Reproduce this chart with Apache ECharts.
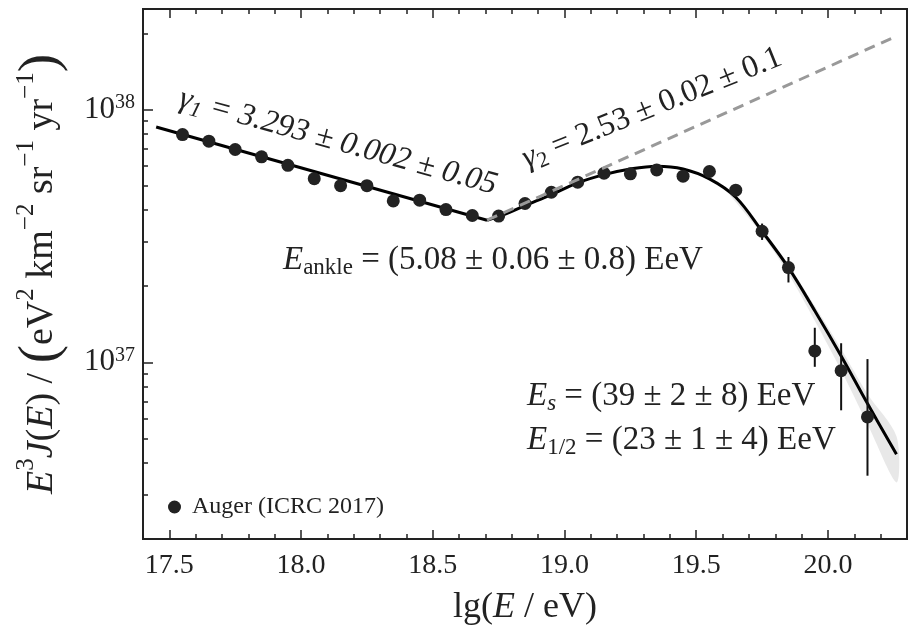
<!DOCTYPE html>
<html>
<head>
<meta charset="utf-8">
<script src="https://cdn.jsdelivr.net/npm/echarts@6/dist/echarts.min.js"></script>
<style>
html,body{margin:0;padding:0;background:#fff;}
#chart{width:912px;height:628px;}
</style>
</head>
<body>
<div id="chart"></div>
<script>
// ---- data ----
const lgE = [17.55,17.65,17.75,17.85,17.95,18.05,18.15,18.25,18.35,18.45,18.55,18.65,18.75,18.85,18.95,19.05,19.15,19.25,19.35,19.45,19.55,19.65,19.75,19.85,19.95,20.05,20.15];
const flux = [7.96e37,7.50e37,6.95e37,6.50e37,6.02e37,5.33e37,5.00e37,5.00e37,4.35e37,4.38e37,4.02e37,3.81e37,3.79e37,4.25e37,4.71e37,5.16e37,5.60e37,5.57e37,5.77e37,5.45e37,5.69e37,4.80e37,3.30e37,2.37e37,1.11e37,9.27e36,6.08e36];

const errX  = [19.75,19.85,19.95,20.05,20.15];
const errLo = [3.05e37,2.07e37,9.6e36,6.46e36,3.56e36];
const errHi = [3.54e37,2.61e37,1.37e37,1.19e37,1.03e37];

const fitLowX = [17.45,18.706];
const fitLowY = [8.53e37,3.65e37];
const fitHighX = [18.706,18.77,18.85,18.95,19.05,19.15,19.25,19.35,19.45,19.55,19.65,19.75,19.85,19.95,20.05,20.15,20.26];
const fitHighY = [3.65e37,3.84e37,4.17e37,4.61e37,5.13e37,5.53e37,5.82e37,5.97e37,5.82e37,5.32e37,4.50e37,3.30e37,2.37e37,1.60e37,1.06e37,6.87e36,4.33e36];

const extX = [18.706,20.245];
const extY = [3.65e37,1.92e38];

const bandX  = [19.60,19.75,19.85,19.95,20.05,20.15,20.26];
const bandLo = [4.98e37,3.20e37,2.24e37,1.46e37,9.3e36,5.7e36,3.35e36];
const bandHi = [5.05e37,3.36e37,2.44e37,1.67e37,1.13e37,7.5e36,5.1e36];

const xMajor = [17.5,18.0,18.5,19.0,19.5,20.0];
const xLabels = ['17.5','18.0','18.5','19.0','19.5','20.0'];
const xMinor = [17.4,17.6,17.7,17.8,17.9,18.1,18.2,18.3,18.4,18.6,18.7,18.8,18.9,19.1,19.2,19.3,19.4,19.6,19.7,19.8,19.9,20.1,20.2,20.3];
const yMajor = [1e37,1e38];
const yExp = ['37','38'];
const yMinor = [3e36,4e36,5e36,6e36,7e36,8e36,9e36,2e37,3e37,4e37,5e37,6e37,7e37,8e37,9e37,2e38];

const seriesName = 'Auger (ICRC 2017)';

// ---- chart ----
const FF = 'Liberation Serif';
const INK = '#222';
const XMIN = 17.4, XMAX = 20.3, YMIN = 2e36, YMAX = 2.5e38;

function pairs(a, b) { return a.map((v, i) => [v, b[i]]); }

function xAxisDef(pos, ticks, len, labels) {
  return {
    type: 'value', position: pos, min: XMIN, max: XMAX,
    axisLine: { show: false },
    splitLine: { show: false },
    axisTick: { show: true, inside: true, length: len, customValues: ticks, lineStyle: { color: INK, width: 1.5 } },
    axisLabel: labels ? {
      show: true, customValues: xMajor, margin: 13,
      formatter: v => xLabels[xMajor.findIndex(m => Math.abs(m - v) < 1e-6)],
      fontFamily: FF, fontSize: 28, color: INK
    } : { show: false }
  };
}
function yAxisDef(ticks, len, labels) {
  return {
    type: 'log', logBase: 10, position: 'left', min: YMIN, max: YMAX,
    axisLine: { show: false },
    splitLine: { show: false },
    minorTick: { show: false },
    axisTick: { show: true, inside: true, length: len, customValues: ticks, lineStyle: { color: INK, width: 1.5 } },
    axisLabel: labels ? {
      show: true, customValues: yMajor, margin: 8,
      formatter: v => '{b|10}{s|' + yExp[yMajor.findIndex(m => Math.abs(m - v) / m < 1e-6)] + '}',
      rich: {
        b: { fontFamily: FF, fontSize: 31, color: INK, lineHeight: 34 },
        s: { fontFamily: FF, fontSize: 20, color: INK, verticalAlign: 'top', lineHeight: 22 }
      }
    } : { show: false }
  };
}

const yName = '{i|E}{sup|3}{i|J}{n|(}{i|E}{n|) / }{big|(}{n|eV}{sup|2}{n| km}{sup|−2}{n| sr}{sup|−1}{n| yr}{sup|−1}{big|)}';

const yAxis0 = yAxisDef(yMajor, 10, true);
yAxis0.name = yName;
yAxis0.nameLocation = 'middle';
yAxis0.nameRotate = 90;
yAxis0.nameGap = 73;
yAxis0.nameTextStyle = {
  fontFamily: FF, fontSize: 38, color: INK,
  rich: {
    i: { fontFamily: FF, fontSize: 38, fontStyle: 'italic', color: INK, lineHeight: 56 },
    n: { fontFamily: FF, fontSize: 38, color: INK, lineHeight: 56 },
    sup: { fontFamily: FF, fontSize: 25, color: INK, verticalAlign: 'top', lineHeight: 36 },
    big: { fontFamily: FF, fontSize: 55, color: INK, lineHeight: 56 }
  }
};

const xAxis0 = xAxisDef('bottom', xMajor, 9, true);
xAxis0.name = '{n|lg(}{i|E}{n| / eV)}';
xAxis0.nameLocation = 'middle';
xAxis0.nameGap = 51;
xAxis0.nameTextStyle = {
  fontFamily: FF, fontSize: 36, color: INK,
  rich: {
    n: { fontFamily: FF, fontSize: 36, color: INK },
    i: { fontFamily: FF, fontSize: 36, fontStyle: 'italic', color: INK }
  }
};

const chart = echarts.init(document.getElementById('chart'), null, { renderer: 'canvas' });

function annRich(subItalic) {
  return {
    i: { fontFamily: FF, fontSize: 33, fontStyle: 'italic', fill: INK, lineHeight: 38 },
    sub: { fontFamily: FF, fontSize: 23, fontStyle: subItalic ? 'italic' : 'normal', fill: INK, verticalAlign: 'bottom', lineHeight: 26 },
    n: { fontFamily: FF, fontSize: 33, fill: INK, lineHeight: 38 }
  };
}

const option = {
  backgroundColor: '#fff',
  animation: false,
  grid: { left: 143, right: 5, top: 9, bottom: 89, outerBoundsMode: 'none', containLabel: false, show: true, borderColor: INK, borderWidth: 2, backgroundColor: 'transparent' },
  legend: {
    data: [{ name: seriesName, icon: 'circle' }],
    left: 168, top: 495, padding: 0,
    itemWidth: 13, itemHeight: 13,
    textStyle: { fontFamily: FF, fontSize: 24, color: INK, padding: [0, 0, 0, 6] }
  },
  xAxis: [
    xAxis0,
    xAxisDef('bottom', xMinor, 5, false),
    xAxisDef('top', xMajor, 9, false),
    xAxisDef('top', xMinor, 5, false)
  ],
  yAxis: [yAxis0, yAxisDef(yMinor, 5, false)],
  series: [
    {
      type: 'custom', xAxisIndex: 0, yAxisIndex: 0, z: 1, silent: true,
      data: [[bandX[0], bandLo[0], bandHi[0]]],
      renderItem: function (params, api) {
        const pts = [];
        for (let i = 0; i < bandX.length; i++) pts.push(api.coord([bandX[i], bandHi[i]]));
        for (let i = bandX.length - 1; i >= 0; i--) pts.push(api.coord([bandX[i], bandLo[i]]));
        return { type: 'polygon', shape: { points: pts, smooth: 0.3 }, style: { fill: '#e8e8e8', stroke: 'none' } };
      }
    },
    {
      type: 'line', name: 'fit-low', data: pairs(fitLowX, fitLowY), showSymbol: false, z: 3,
      lineStyle: { color: '#000', width: 3 }, silent: true
    },
    {
      type: 'line', name: 'fit-high', data: pairs(fitHighX, fitHighY), showSymbol: false, smooth: 0.35, z: 3,
      lineStyle: { color: '#000', width: 3 }, silent: true
    },
    {
      type: 'custom', name: 'errors', z: 4, silent: true,
      data: errX.map((x, i) => [x, errLo[i], errHi[i]]),
      encode: { x: 0, y: [1, 2] },
      renderItem: function (params, api) {
        const a = api.coord([api.value(0), api.value(1)]);
        const b = api.coord([api.value(0), api.value(2)]);
        return { type: 'line', shape: { x1: a[0], y1: a[1], x2: b[0], y2: b[1] }, style: { stroke: '#111', lineWidth: 2 } };
      }
    },
    {
      type: 'scatter', name: seriesName, data: pairs(lgE, flux), symbol: 'circle', symbolSize: 13, z: 5,
      itemStyle: { color: INK, opacity: 1 }
    },
    {
      type: 'line', name: 'ext', data: pairs(extX, extY), showSymbol: false, z: 6, silent: true,
      lineStyle: { color: '#999', width: 3, type: [11, 7] }
    }
  ],
  graphic: [
    {
      type: 'text', x: 338, y: 142, rotation: -15.5 * Math.PI / 180, silent: true,
      style: {
        text: '{g|γ}{sub|1}{n| = 3.293 ± 0.002 ± 0.05}',
        align: 'center', verticalAlign: 'middle',
        rich: {
          g: { fontFamily: FF, fontSize: 32, fontStyle: 'italic', fill: INK, lineHeight: 38 },
          sub: { fontFamily: FF, fontSize: 22, fontStyle: 'italic', fill: INK, verticalAlign: 'bottom', lineHeight: 26 },
          n: { fontFamily: FF, fontSize: 32, fontStyle: 'italic', fill: INK, lineHeight: 38 }
        }
      }
    },
    {
      type: 'text', x: 652, y: 108, rotation: 22 * Math.PI / 180, silent: true,
      style: {
        text: '{g|γ}{sub|2}{n| = 2.53 ± 0.02 ± 0.1}',
        align: 'center', verticalAlign: 'middle',
        rich: {
          g: { fontFamily: FF, fontSize: 32, fontStyle: 'italic', fill: INK, lineHeight: 38 },
          sub: { fontFamily: FF, fontSize: 22, fill: INK, verticalAlign: 'bottom', lineHeight: 26 },
          n: { fontFamily: FF, fontSize: 32, fill: INK, lineHeight: 38 }
        }
      }
    },
    {
      type: 'text', x: 283, y: 260, silent: true,
      style: { text: '{i|E}{sub|ankle}{n| = (5.08 ± 0.06 ± 0.8) EeV}', align: 'left', verticalAlign: 'middle', rich: annRich(false) }
    },
    {
      type: 'text', x: 527, y: 396, silent: true,
      style: { text: '{i|E}{sub|s}{n| = (39 ± 2 ± 8) EeV}', align: 'left', verticalAlign: 'middle', rich: annRich(true) }
    },
    {
      type: 'text', x: 527, y: 440, silent: true,
      style: { text: '{i|E}{sub|1/2}{n| = (23 ± 1 ± 4) EeV}', align: 'left', verticalAlign: 'middle', rich: annRich(false) }
    }
  ]
};
chart.setOption(option);
</script>
</body>
</html>
